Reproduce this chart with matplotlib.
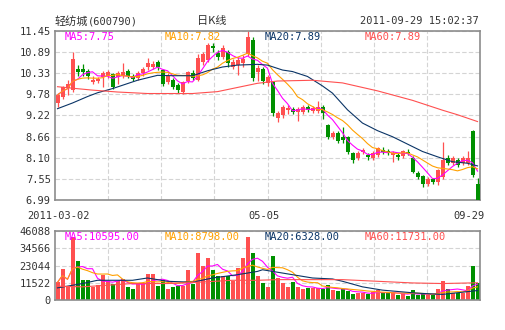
import matplotlib
matplotlib.use('Agg')
import matplotlib.pyplot as plt
import numpy as np
import pandas as pd

# K线图 轻纺城 600790

plt.rcParams['font.family'] = ['DejaVu Sans Mono', 'Noto Sans CJK SC']

opens = [9.55, 9.71, 9.95, 9.89, 10.45, 10.45, 10.39, 10.10, 10.12, 10.24,
         10.26, 10.31, 10.24, 10.26, 10.39, 10.26, 10.20, 10.34, 10.50, 10.50,
         10.63, 10.42, 10.10, 10.16, 10.03, 9.84, 10.12, 10.34, 10.16, 10.63,
         10.69, 11.05, 10.88, 10.77, 10.90, 10.51, 10.55, 10.60, 10.84, 11.20,
         10.37, 10.45, 10.08, 10.10, 9.15, 9.23, 9.37, 9.39, 9.30, 9.30,
         9.44, 9.34, 9.34, 9.45, 8.97, 8.65, 8.76, 8.65, 8.65, 8.23,
         8.10, 8.26, 8.18, 8.10, 8.18, 8.31, 8.28, 8.18, 8.18, 8.15,
         8.26, 8.10, 7.71, 7.62, 7.41, 7.54, 7.47, 7.60, 8.10, 7.97,
         8.05, 7.97, 7.97, 8.82, 7.41]
closes = [9.76, 9.97, 10.05, 10.71, 10.38, 10.37, 10.25, 10.16, 10.18, 10.34,
          10.36, 9.97, 10.34, 10.36, 10.26, 10.18, 10.34, 10.45, 10.61, 10.58,
          10.50, 10.05, 10.26, 9.97, 9.89, 10.10, 10.36, 10.21, 10.74, 10.84,
          11.08, 11.00, 10.77, 11.00, 10.60, 10.64, 10.69, 10.72, 11.30, 10.20,
          10.47, 10.13, 10.24, 9.29, 9.28, 9.44, 9.41, 9.30, 9.39, 9.44,
          9.37, 9.41, 9.44, 9.28, 8.66, 8.76, 8.55, 8.57, 8.26, 8.05,
          8.23, 8.31, 8.12, 8.23, 8.35, 8.26, 8.23, 8.23, 8.12, 8.28,
          8.23, 7.74, 7.61, 7.41, 7.54, 7.47, 7.78, 8.05, 7.97, 8.10,
          7.92, 8.10, 8.10, 7.65, 6.99]
highs = [9.81, 10.00, 10.15, 10.90, 10.55, 10.58, 10.45, 10.26, 10.24, 10.40,
         10.42, 10.34, 10.39, 10.61, 10.45, 10.31, 10.39, 10.50, 10.74, 10.66,
         10.69, 10.45, 10.34, 10.21, 10.08, 10.13, 10.39, 10.42, 10.84, 10.90,
         11.13, 11.13, 10.95, 11.08, 10.95, 10.72, 10.77, 10.82, 11.45, 11.29,
         10.55, 10.50, 10.29, 10.13, 9.34, 9.50, 9.50, 9.44, 9.44, 9.50,
         9.50, 9.47, 9.61, 9.50, 9.00, 8.81, 8.81, 8.92, 8.68, 8.26,
         8.28, 8.36, 8.23, 8.28, 8.40, 8.38, 8.33, 8.28, 8.23, 8.31,
         8.33, 8.15, 7.76, 7.65, 7.60, 7.58, 7.81, 8.53, 8.18, 8.15,
         8.10, 8.15, 8.27, 8.84, 7.57]
lows = [9.44, 9.66, 9.75, 9.85, 10.26, 10.26, 10.18, 10.05, 10.08, 9.98,
        10.20, 9.92, 10.05, 10.20, 10.21, 10.13, 10.15, 10.26, 10.42, 10.45,
        10.42, 10.00, 10.05, 9.92, 9.81, 9.79, 10.08, 10.16, 10.13, 10.55,
        10.63, 10.90, 10.69, 10.72, 10.50, 10.45, 10.29, 10.50, 10.79, 10.13,
        10.13, 10.05, 10.00, 9.21, 9.05, 9.15, 9.26, 9.26, 9.08, 9.26,
        9.31, 9.29, 9.29, 9.13, 8.60, 8.60, 8.50, 8.49, 8.20, 7.97,
        8.05, 8.20, 8.05, 8.05, 8.12, 8.20, 8.18, 8.00, 8.05, 8.10,
        8.18, 7.70, 7.55, 7.33, 7.36, 7.41, 7.38, 7.55, 7.91, 7.91,
        7.86, 7.91, 7.91, 7.60, 6.99]
volumes = [11850, 20850, 8780, 42150, 26340, 13600, 13600, 8780, 10300, 16900,
           12500, 11000, 12500, 14300, 8560, 7020, 11400, 11000, 17560, 17560,
           9660, 13600, 7020, 8560, 9220, 9660, 20200, 11000, 31600, 22400,
           28300, 20200, 16240, 15800, 16240, 12500, 21700, 28300, 42150, 31170,
           16240, 11400, 8560, 29630, 14700, 11400, 8560, 11850, 8780, 7020,
           7900, 7900, 7900, 7460, 10300, 6370, 5930, 7020, 5930, 3730,
           4830, 4830, 3730, 5270, 6590, 4390, 4390, 4830, 3070, 4830,
           2630, 6370, 3070, 3730, 3070, 3070, 7500, 12500, 7020, 4830,
           4830, 4830, 9220, 23000, 11100]

# MA20 / MA60 (necesitan datos anteriores al 03-02)
ma20_idx = [0, 3, 6, 8, 11, 16, 20, 23, 27, 30, 33, 36, 40, 42, 45, 47, 50,
            53, 55, 58, 61, 64, 67, 69, 73, 76, 79, 82, 84]
ma20_val = [9.40, 9.55, 9.72, 9.82, 9.93, 10.15, 10.28, 10.27, 10.27, 10.40,
            10.50, 10.55, 10.57, 10.55, 10.42, 10.38, 10.25, 10.00, 9.81, 9.37,
            9.02, 8.82, 8.66, 8.53, 8.27, 8.13, 8.00, 7.96, 7.89]
ma60_idx = [0, 3, 7, 12, 18, 27, 32, 36, 40, 44, 51, 57, 64, 71, 77, 80, 84]
ma60_val = [9.98, 9.94, 9.89, 9.84, 9.80, 9.80, 9.85, 9.96, 10.07, 10.13,
            10.15, 10.08, 9.87, 9.62, 9.36, 9.24, 9.06]
vma20_idx = [0, 5, 8, 15, 18, 22, 27, 31, 36, 40, 41, 47, 51, 55, 57, 61, 65,
             71, 73, 77, 84]
vma20_val = [8100, 11000, 13170, 13170, 14700, 12500, 11850, 14700, 16900,
             19100, 20200, 16900, 14700, 14050, 12500, 8780, 6590, 4830, 4390,
             3730, 6328]
vma60_idx = [0, 5, 15, 22, 28, 35, 40, 44, 57, 64, 71, 77, 84]
vma60_val = [9220, 8780, 11000, 11000, 11850, 13170, 13170, 13600, 13600,
             12500, 11400, 11000, 11500]

price_ticks = [6.99, 7.55, 8.10, 8.66, 9.22, 9.78, 10.33, 10.89, 11.45]
price_labels = ['6.99', '7.55', '8.10', '8.66', '9.22', '9.78', '10.33', '10.89', '11.45']
vol_ticks = [0, 11522, 23044, 34566, 46088]
date_labels = ['2011-03-02', '05-05', '09-29']
ma_labels = ['MA5:7.75', 'MA10:7.82', 'MA20:7.89', 'MA60:7.89']
vma_labels = ['MA5:10595.00', 'MA10:8798.00', 'MA20:6328.00', 'MA60:11731.00']

ROJO = '#ff5050'
VERDE = '#009000'
ma_colors = ['#ff00ff', '#ffa000', '#0a3466', '#ff5050']

o = np.array(opens)
c = np.array(closes)
h = np.array(highs)
l = np.array(lows)
v = np.array(volumes)
x = np.arange(len(o))
colores = np.where(c >= o, ROJO, VERDE)

ma5 = pd.Series(c).rolling(5, min_periods=1).mean()
ma10 = pd.Series(c).rolling(10, min_periods=1).mean()
vma5 = pd.Series(v).rolling(5, min_periods=1).mean()
vma10 = pd.Series(v).rolling(10, min_periods=1).mean()

fig = plt.figure(figsize=(5.05, 3.30), dpi=100)
W, H = 505, 330
ax1 = fig.add_axes([55 / W, (H - 200) / H, 425 / W, 169 / H])
ax2 = fig.add_axes([55 / W, (H - 300) / H, 425 / W, 69 / H])

grid_x = [-0.5 + k * len(x) / 8 for k in range(1, 8)]
for ax in (ax1, ax2):
    ax.set_xlim(-0.5, len(x) - 0.5)
    ax.set_xticks(grid_x)
    ax.set_xticklabels([])
    ax.tick_params(length=0, labelsize=7.5, colors='#333333', pad=3)
    ax.grid(True, color='#d4d4d4', linestyle=(0, (4, 2)), linewidth=0.8)
    ax.set_axisbelow(True)
    for s in ax.spines.values():
        s.set_color('#8c8c8c')
        s.set_linewidth(1.2)

# velas
cuerpo = np.maximum(np.abs(c - o), 0.012)
ax1.vlines(x, l, h, colors=colores, linewidth=0.9, zorder=2)
ax1.bar(x, cuerpo, bottom=np.minimum(o, c), width=0.8, color=colores,
        linewidth=0, zorder=3)
ax1.plot(x, ma5, color=ma_colors[0], lw=0.8, zorder=4)
ax1.plot(x, ma10, color=ma_colors[1], lw=0.8, zorder=4)
ax1.plot(ma20_idx, ma20_val, color=ma_colors[2], lw=0.8, zorder=4)
ax1.plot(ma60_idx, ma60_val, color=ma_colors[3], lw=0.8, zorder=4)
ax1.set_ylim(price_ticks[0], price_ticks[-1])
ax1.set_yticks(price_ticks)
ax1.set_yticklabels(price_labels)

# volumen
ax2.bar(x, v, width=0.8, color=colores, linewidth=0, zorder=2)
ax2.plot(x, vma5, color=ma_colors[0], lw=0.8, zorder=4)
ax2.plot(x, vma10, color=ma_colors[1], lw=0.8, zorder=4)
ax2.plot(vma20_idx, vma20_val, color=ma_colors[2], lw=0.8, zorder=4)
ax2.plot(vma60_idx, vma60_val, color=ma_colors[3], lw=0.8, zorder=4)
ax2.set_ylim(vol_ticks[0], vol_ticks[-1])
ax2.set_yticks(vol_ticks)
ax2.set_yticklabels([str(t) for t in vol_ticks])

# textos
label_x = [65, 165, 265, 365]
for lx, txt, col in zip(label_x, ma_labels, ma_colors):
    fig.text(lx / W, 1 - 37 / H, txt, color=col, fontsize=7.5, va='center')
for lx, txt, col in zip(label_x, vma_labels, ma_colors):
    fig.text(lx / W, 1 - 237 / H, txt, color=col, fontsize=7.5, va='center')

fig.text(55 / W, 1 - 21 / H, '轻纺城', fontsize=8, color='#333333', va='center',
         family=['Noto Sans CJK SC'])
fig.text(88 / W, 1 - 21 / H, '(600790)', fontsize=7.5, color='#333333', va='center')
fig.text(212 / W, 1 - 21 / H, '日K线', fontsize=8, color='#333333', va='center',
         ha='center', family=['Noto Sans CJK SC'])
fig.text(479 / W, 1 - 21 / H, '2011-09-29 15:02:37', fontsize=7.5, color='#333333',
         va='center', ha='right')

for dx, txt in zip([59, 264, 469], date_labels):
    fig.text(dx / W, 1 - 216 / H, txt, fontsize=7.5, color='#333333',
             va='center', ha='center')

fig.savefig('out.png', dpi=100, facecolor='white')
